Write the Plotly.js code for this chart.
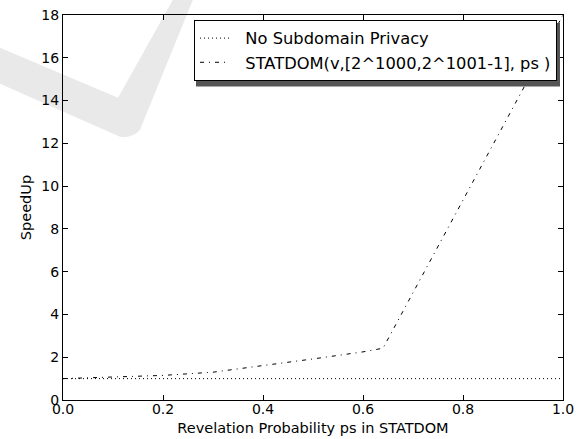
<!DOCTYPE html>
<html>
<head>
<meta charset="utf-8">
<script src="https://cdn.plot.ly/plotly-3.0.1.min.js"></script>
<style>html,body{margin:0;padding:0;background:#fff;}#chart{width:578px;height:439px;}</style>
</head>
<body>
<div id="chart"></div>
<script>
// Data
const baselineX = [0, 1];
const baselineY = [1, 1];
const statdomX = [0, 0.1, 0.2, 0.3, 0.4, 0.5, 0.6, 0.64, 1.0];
const statdomY = [1.0, 1.06, 1.15, 1.3, 1.6, 1.92, 2.25, 2.42, 18.0];
const seriesNames = ["No Subdomain Privacy", "STATDOM(v,[2^1000,2^1001-1], ps )"];
const xTicks = [0, 0.2, 0.4, 0.6, 0.8, 1.0];
const xTickText = ["0.0", "0.2", "0.4", "0.6", "0.8", "1.0"];
const yTicks = [0, 2, 4, 6, 8, 10, 12, 14, 16, 18];

const FONT = "DejaVu Sans, sans-serif";
const PAD = "\u00a0\u00a0";

const traces = [
  {x: baselineX, y: baselineY, name: PAD + seriesNames[0], mode: "lines",
   line: {color: "black", width: 1, dash: "1px,3px"}},
  {x: statdomX, y: statdomY, name: PAD + seriesNames[1], mode: "lines",
   line: {color: "black", width: 1, dash: "4px,5px,1px,5px"}}
];

const axisCommon = {
  showline: true, linecolor: "black", linewidth: 1, mirror: "ticks",
  ticks: "inside", ticklen: 5, tickcolor: "black", tickwidth: 1,
  showgrid: false, zeroline: false,
  tickfont: {family: FONT, size: 14, color: "black"}
};

const layout = {
  width: 578, height: 439,
  margin: {l: 63, r: 15, t: 15, b: 39},
  paper_bgcolor: "white", plot_bgcolor: "rgba(0,0,0,0)",
  font: {family: FONT, color: "black"},
  showlegend: true,
  xaxis: Object.assign({}, axisCommon, {
    range: [0, 1], tickvals: xTicks, ticktext: xTickText, ticklabelstandoff: -4,
    title: {text: "Revelation Probability ps in STATDOM", font: {family: FONT, size: 14.5}, standoff: 7}
  }),
  yaxis: Object.assign({}, axisCommon, {
    range: [0, 18], tickvals: yTicks,
    title: {text: "SpeedUp", font: {family: FONT, size: 14.5}, standoff: 6}
  }),
  legend: {
    x: 0.988, y: 0.987, xanchor: "right", yanchor: "top",
    bgcolor: "white", bordercolor: "black", borderwidth: 1,
    font: {family: FONT, size: 16.3, color: "black"}
  },
  shapes: [
    {type: "path", xref: "paper", yref: "paper", layer: "below",
     path: "M -0.13 0.917 L 0.11 0.785 L 0.22 1.04 L 0.26 1.04 L 0.154 0.702 Q 0.14 0.68 0.114 0.684 L -0.13 0.824 Z",
     fillcolor: "#e9e9e9", line: {width: 0}},
    {type: "rect", xref: "paper", yref: "paper", layer: "above",
     x0: 0.266, x1: 0.994, y0: 0.814, y1: 0.979,
     fillcolor: "#555555", line: {width: 0}}
  ]
};

Plotly.newPlot("chart", traces, layout, {displayModeBar: false, staticPlot: true});
</script>
</body>
</html>
